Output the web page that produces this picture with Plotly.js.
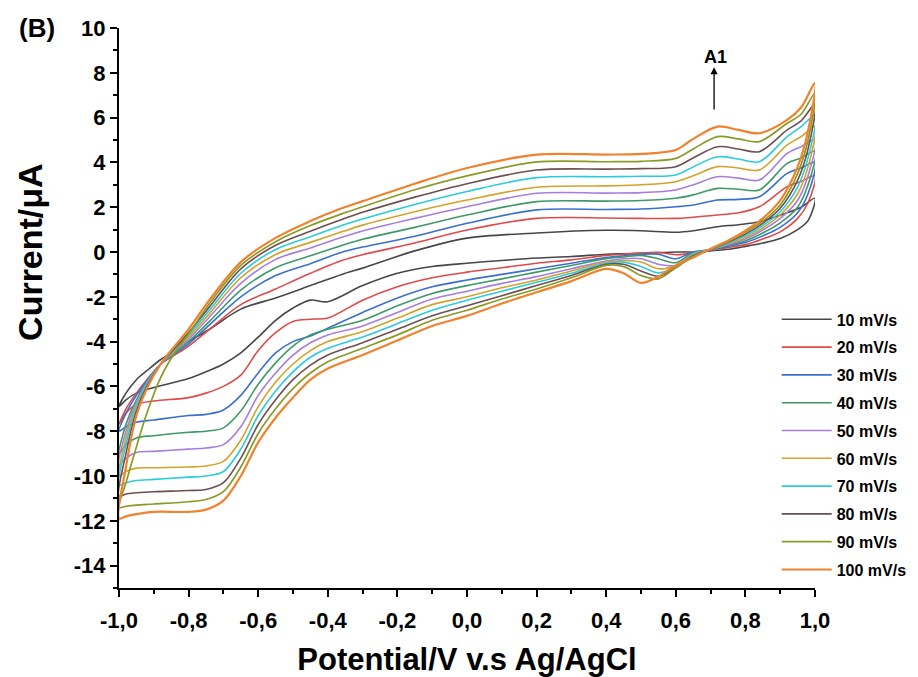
<!DOCTYPE html>
<html>
<head>
<meta charset="utf-8">
<script src="https://cdn.plot.ly/plotly-3.0.1.min.js"></script>
<style>html,body{margin:0;padding:0;background:#fff;}#chart{width:918px;height:677px;}</style>
</head>
<body>
<div id="chart"></div>
<script>
// Potential grid of the forward (anodic) sweep, V
const X_FWD = [-1.0, -0.98, -0.95, -0.92, -0.88, -0.84, -0.8, -0.74, -0.65, -0.55, -0.45, -0.36, -0.3, -0.15, 0.0, 0.2, 0.4, 0.5, 0.6, 0.65, 0.72, 0.78, 0.84, 0.92, 0.96, 1.0];
// Potential grid of the reverse (cathodic) sweep, V
const X_REV = [0.98, 0.95, 0.9, 0.85, 0.8, 0.75, 0.7, 0.65, 0.6, 0.55, 0.5, 0.45, 0.4, 0.3, 0.2, 0.1, 0.0, -0.1, -0.2, -0.3, -0.4, -0.45, -0.5, -0.55, -0.6, -0.65, -0.7, -0.75, -0.8, -0.9, -0.95, -0.98, -1.0];

const SERIES = ['10 mV/s', '20 mV/s', '30 mV/s', '40 mV/s', '50 mV/s', '60 mV/s', '70 mV/s', '80 mV/s', '90 mV/s', '100 mV/s'];

// Current (µA), forward sweeps
const fwd10  = [-6.9, -6.3, -5.7, -5.3, -4.8, -4.4, -4.0, -3.45, -2.55, -2.05, -1.5, -1.0, -0.72, 0.05, 0.62, 0.85, 0.97, 0.95, 0.88, 0.95, 1.13, 1.22, 1.35, 1.75, 2.0, 2.4];
const fwd20  = [-7.7, -7.0, -6.3, -5.7, -5.0, -4.6, -4.2, -3.45, -2.35, -1.65, -0.95, -0.38, -0.12, 0.4, 0.98, 1.5, 1.52, 1.5, 1.5, 1.55, 1.65, 1.75, 2.02, 2.92, 3.15, 3.4];
const fwd30  = [-8.0, -7.2, -6.4, -5.75, -5.0, -4.55, -4.1, -3.25, -2.0, -1.05, -0.52, -0.01, 0.22, 0.7, 1.28, 1.88, 1.9, 1.92, 2.02, 2.1, 2.32, 2.35, 2.47, 3.51, 3.75, 4.0];
const fwd40  = [-9.0, -7.7, -6.6, -5.8, -5.0, -4.5, -4.0, -3.1, -1.7, -0.7, -0.17, 0.29, 0.57, 1.1, 1.65, 2.25, 2.27, 2.3, 2.4, 2.55, 2.84, 2.8, 2.77, 3.96, 4.2, 4.5];
const fwd50  = [-9.5, -8.0, -6.7, -5.85, -5.0, -4.45, -3.9, -2.9, -1.4, -0.33, 0.18, 0.66, 0.94, 1.5, 2.02, 2.62, 2.63, 2.65, 2.77, 3.0, 3.36, 3.3, 3.21, 4.4, 4.7, 5.0];
const fwd60  = [-10.0, -8.3, -6.8, -5.9, -5.0, -4.4, -3.8, -2.75, -1.15, -0.11, 0.43, 0.9, 1.2, 1.8, 2.32, 2.89, 2.95, 3.0, 3.14, 3.4, 3.81, 3.75, 3.66, 4.78, 5.15, 5.6];
const fwd70  = [-10.4, -8.6, -6.9, -5.9, -5.0, -4.35, -3.7, -2.6, -0.95, 0.11, 0.68, 1.18, 1.47, 2.12, 2.7, 3.32, 3.36, 3.38, 3.44, 3.8, 4.25, 4.15, 4.03, 5.15, 5.6, 6.1];
const fwd80  = [-10.9, -9.0, -7.1, -6.0, -5.0, -4.3, -3.6, -2.45, -0.75, 0.3, 0.93, 1.45, 1.77, 2.45, 3.05, 3.66, 3.7, 3.72, 3.81, 4.2, 4.7, 4.6, 4.48, 5.45, 5.85, 6.6];
const fwd90  = [-11.4, -10.3, -8.7, -7.2, -5.6, -4.5, -3.65, -2.3, -0.6, 0.46, 1.18, 1.7, 2.02, 2.78, 3.4, 4.02, 4.03, 4.05, 4.18, 4.6, 5.15, 5.05, 4.93, 5.75, 6.15, 7.1];
const fwd100 = [-11.9, -9.6, -7.3, -6.1, -5.0, -4.2, -3.45, -2.14, -0.45, 0.63, 1.38, 1.95, 2.27, 3.05, 3.75, 4.35, 4.35, 4.38, 4.55, 5.05, 5.6, 5.45, 5.3, 5.9, 6.45, 7.55];

// Current (µA), reverse sweeps
const rev10  = [1.4, 1.0, 0.6, 0.4, 0.25, 0.12, 0.05, 0.0, 0.0, -0.03, -0.06, -0.08, -0.1, -0.2, -0.27, -0.38, -0.5, -0.65, -0.95, -1.5, -2.22, -2.15, -2.5, -3.05, -3.8, -4.5, -5.0, -5.35, -5.65, -6.05, -6.3, -6.6, -6.9];
const rev20  = [2.2, 1.5, 0.9, 0.58, 0.33, 0.2, 0.08, -0.05, -0.12, -0.02, -0.05, -0.1, -0.15, -0.35, -0.5, -0.7, -0.9, -1.15, -1.55, -2.15, -2.95, -3.0, -3.1, -3.6, -4.4, -5.5, -6.0, -6.3, -6.5, -6.65, -6.8, -7.2, -7.7];
const rev30  = [2.6, 1.75, 1.1, 0.72, 0.42, 0.25, 0.1, 0.0, -0.3, -0.1, -0.1, -0.17, -0.25, -0.5, -0.75, -1.0, -1.25, -1.55, -2.05, -2.7, -3.4, -3.75, -4.0, -4.5, -5.4, -6.4, -7.05, -7.25, -7.3, -7.5, -7.6, -7.8, -8.0];
const rev40  = [3.0, 2.0, 1.3, 0.85, 0.5, 0.3, 0.1, -0.03, -0.48, -0.3, -0.15, -0.22, -0.3, -0.6, -0.9, -1.2, -1.5, -1.85, -2.4, -3.05, -3.45, -3.7, -4.2, -4.95, -5.9, -7.1, -7.85, -8.0, -8.05, -8.2, -8.3, -8.6, -9.0];
const rev50  = [3.4, 2.3, 1.5, 0.98, 0.58, 0.33, 0.1, -0.07, -0.6, -0.55, -0.3, -0.3, -0.4, -0.75, -1.1, -1.4, -1.75, -2.1, -2.7, -3.3, -3.7, -4.05, -4.6, -5.4, -6.4, -7.8, -8.6, -8.75, -8.8, -8.9, -8.95, -9.2, -9.5];
const rev60  = [3.8, 2.6, 1.65, 1.08, 0.65, 0.37, 0.1, -0.1, -0.6, -0.75, -0.45, -0.38, -0.45, -0.85, -1.25, -1.6, -2.0, -2.35, -2.95, -3.55, -4.0, -4.4, -5.0, -5.8, -6.9, -8.4, -9.35, -9.55, -9.6, -9.63, -9.65, -9.8, -10.0];
const rev70  = [4.2, 2.9, 1.8, 1.18, 0.72, 0.4, 0.1, -0.13, -0.65, -0.93, -0.65, -0.45, -0.5, -0.95, -1.35, -1.75, -2.15, -2.6, -3.2, -3.8, -4.3, -4.7, -5.35, -6.2, -7.3, -8.8, -9.8, -10.0, -10.05, -10.15, -10.2, -10.3, -10.4];
const rev80  = [4.6, 3.2, 1.95, 1.28, 0.8, 0.44, 0.1, -0.17, -0.7, -1.08, -0.85, -0.55, -0.55, -1.05, -1.5, -1.95, -2.4, -2.85, -3.45, -4.05, -4.6, -5.05, -5.7, -6.6, -7.7, -9.2, -10.3, -10.6, -10.65, -10.7, -10.75, -10.8, -10.9];
const rev90  = [5.0, 3.5, 2.1, 1.38, 0.88, 0.47, 0.12, -0.2, -0.7, -1.2, -1.05, -0.65, -0.6, -1.15, -1.65, -2.1, -2.6, -3.05, -3.7, -4.3, -4.9, -5.4, -6.1, -7.0, -8.1, -9.6, -10.7, -11.05, -11.15, -11.25, -11.3, -11.35, -11.4];
const rev100 = [5.4, 3.8, 2.3, 1.5, 0.95, 0.5, 0.15, -0.25, -0.6, -1.1, -1.38, -0.95, -0.75, -1.3, -1.8, -2.3, -2.85, -3.3, -3.95, -4.6, -5.2, -5.7, -6.5, -7.4, -8.5, -10.0, -11.1, -11.5, -11.6, -11.6, -11.7, -11.8, -11.9];

const X_TICKS = [-1.0, -0.8, -0.6, -0.4, -0.2, 0.0, 0.2, 0.4, 0.6, 0.8, 1.0];
const X_TICK_TEXT = ['-1,0', '-0,8', '-0,6', '-0,4', '-0,2', '0,0', '0,2', '0,4', '0,6', '0,8', '1,0'];
const Y_TICKS = [-14, -12, -10, -8, -6, -4, -2, 0, 2, 4, 6, 8, 10];
const Y_TICK_TEXT = ['-14', '-12', '-10', '-8', '-6', '-4', '-2', '0', '2', '4', '6', '8', '10'];

const FWD = [fwd10, fwd20, fwd30, fwd40, fwd50, fwd60, fwd70, fwd80, fwd90, fwd100];
const REV = [rev10, rev20, rev30, rev40, rev50, rev60, rev70, rev80, rev90, rev100];
const COLORS = ['#474747', '#e04a4a', '#3a6fcf', '#3d9a68', '#a77ddf', '#d3a22c', '#2ccbdc', '#6e4f52', '#8b9a26', '#f0822e'];
const WIDTHS = [1.6, 1.6, 1.6, 1.6, 1.6, 1.6, 1.6, 1.6, 1.7, 2.2];

const FONT = 'Liberation Sans, Arial, sans-serif';

const traces = SERIES.map((name, i) => ({
  type: 'scatter',
  mode: 'lines',
  name: name,
  legendgroup: 'g' + i,
  x: X_FWD.concat(X_REV),
  y: FWD[i].concat(REV[i]),
  line: {color: COLORS[i], width: WIDTHS[i], shape: 'spline', smoothing: 0.9}
}));

const axisCommon = {
  showline: true, linecolor: '#000', linewidth: 2,
  ticks: 'outside', ticklen: 7, tickwidth: 2, tickcolor: '#000',
  showgrid: false, zeroline: false, mirror: false,
  tickfont: {family: FONT, size: 22, color: '#000', weight: 'bold'}
};

const layout = {
  width: 918, height: 677,
  margin: {l: 119, r: 103, t: 28, b: 89, autoexpand: false},
  paper_bgcolor: '#fff', plot_bgcolor: '#fff',
  showlegend: true,
  legend: {
    x: 0.945, y: 0.51, xanchor: 'left', yanchor: 'top',
    bgcolor: 'rgba(0,0,0,0)', borderwidth: 0,
    traceorder: 'grouped', tracegroupgap: 4, itemwidth: 50,
    font: {family: FONT, size: 16, color: '#000', weight: 'bold'}
  },
  xaxis: Object.assign({}, axisCommon, {
    range: [-1.0, 1.0],
    tickmode: 'array', tickvals: X_TICKS, ticktext: X_TICK_TEXT,
    ticklabelstandoff: 5,
    minor: {dtick: 0.1, tick0: 0, ticks: 'outside', ticklen: 4, tickwidth: 2, tickcolor: '#000'},
    title: {text: 'Potential/V v.s Ag/AgCl', standoff: 20,
            font: {family: FONT, size: 31, color: '#000', weight: 'bold'}}
  }),
  yaxis: Object.assign({}, axisCommon, {
    range: [-15, 10],
    tickmode: 'array', tickvals: Y_TICKS, ticktext: Y_TICK_TEXT,
    minor: {dtick: 1, tick0: 0, ticks: 'outside', ticklen: 4, tickwidth: 2, tickcolor: '#000'}
  }),
  annotations: [
    {x: 0.71, y: 8.25, ax: 0.71, ay: 6.3, xref: 'x', yref: 'y', axref: 'x', ayref: 'y',
     text: '', showarrow: true, arrowhead: 2, arrowsize: 1.1, arrowwidth: 1.3, arrowcolor: '#000'},
    {x: 0.715, y: 8.7, xref: 'x', yref: 'y', text: 'A1', showarrow: false,
     font: {family: FONT, size: 18, color: '#000', weight: 'bold'}},
    {x: -0.147, y: 1.0, xref: 'paper', yref: 'paper', xanchor: 'left', yanchor: 'middle',
     text: '(B)', showarrow: false,
     font: {family: FONT, size: 26, color: '#000', weight: 'bold'}},
    {x: -0.128, y: 0.6, xref: 'paper', yref: 'paper', xanchor: 'center', yanchor: 'middle',
     text: 'Current/μA', textangle: -90, showarrow: false,
     font: {family: FONT, size: 34, color: '#000', weight: 'bold'}}
  ]
};

Plotly.newPlot('chart', traces, layout, {displayModeBar: false, staticPlot: true});
</script>
</body>
</html>
